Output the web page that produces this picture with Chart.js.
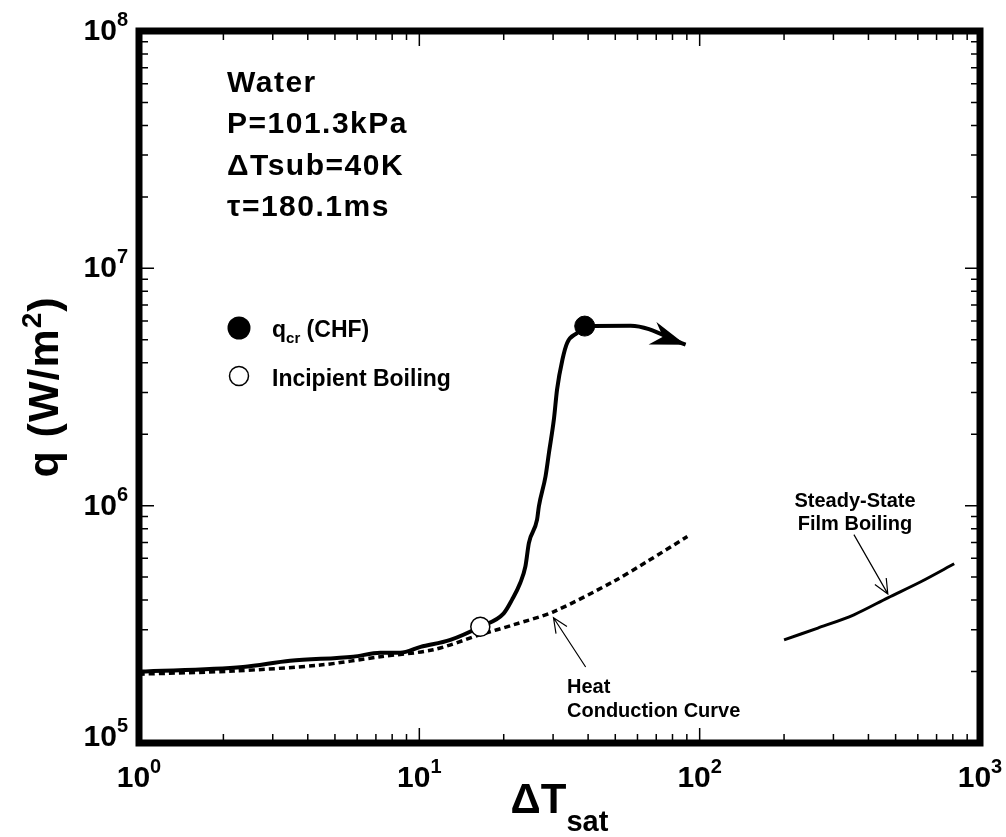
<!DOCTYPE html>
<html>
<head>
<meta charset="utf-8">
<script src="https://cdn.jsdelivr.net/npm/chart.js@4.4.1/dist/chart.umd.min.js"></script>
<style>
  html, body { margin: 0; padding: 0; background: #fff; }
  canvas { display: block; }
</style>
</head>
<body>
<canvas id="boilingChart" width="1006" height="837"></canvas>
<script>
// Transient boiling curve - water, P=101.3kPa, dTsub=40K, tau=180.1ms
const dtMeasured = [1.0, 2.35, 3.46, 5.81, 7.26, 8.55, 10.1, 12.9, 16.5, 20.0, 21.4, 22.9, 23.9, 24.6, 26.3, 26.7, 28.2, 29.0, 30.2, 31.0, 32.4, 33.7, 36.6, 38.9, 56.7, 89.1];
const qMeasured  = [2.0e5, 2.09e5, 2.22e5, 2.31e5, 2.40e5, 2.40e5, 2.54e5, 2.72e5, 3.09e5, 3.52e5, 4.01e5, 4.72e5, 5.55e5, 6.97e5, 8.73e5, 9.94e5, 1.33e6, 1.67e6, 2.31e6, 3.09e6, 4.13e6, 4.86e6, 5.35e6, 5.71e6, 5.73e6, 4.77e6];

// heat conduction curve (dotted)
const dtConduction = [1.0, 2.17, 4.43, 7.26, 11.2, 16.5, 21.7, 30.2, 49.4, 65.0, 90.4];
const qConduction  = [1.95e5, 2.01e5, 2.13e5, 2.31e5, 2.47e5, 2.86e5, 3.15e5, 3.58e5, 4.8e5, 5.82e5, 7.41e5];

// steady-state film boiling
const dtFilm = [200, 264, 355, 469, 615, 809];
const qFilm  = [2.72e5, 3.05e5, 3.47e5, 4.09e5, 4.78e5, 5.69e5];

// marked points
const dtChf = [38.9];
const qChf  = [5.71e6];
const dtIncipient = [16.5];
const qIncipient  = [3.09e5];

// axes
const xDecades = [1, 10, 100, 1000];
const xExponents = ['0', '1', '2', '3'];
const yDecades = [1e5, 1e6, 1e7, 1e8];
const yExponents = ['5', '6', '7', '8'];
const minorSteps = [2, 3, 4, 5, 6, 7, 8, 9];

// annotation arrows [tail, tip] in data units
const conductionArrow = [[39.2, 2.09e5], [30.1, 3.37e5]];
const filmArrow = [[355, 7.55e5], [469, 4.25e5]];

const infoLines = ['Water', 'P=101.3kPa', '\u0394Tsub=40K', '\u03c4=180.1ms'];

const FONT = '"Liberation Sans", Arial, Helvetica, sans-serif';

function pts(xs, ys) {
  return xs.map((x, i) => ({ x: x, y: ys[i] }));
}

function font(size) {
  return 'bold ' + size + 'px ' + FONT;
}

// draws runs of [text, size, dy] one after another, returns total width
function runs(ctx, parts, x, y, measureOnly) {
  let cx = x;
  parts.forEach(([t, size, dy]) => {
    ctx.font = font(size);
    if (!measureOnly) ctx.fillText(t, cx, y + (dy || 0));
    cx += ctx.measureText(t).width;
  });
  return cx - x;
}

function thinArrow(ctx, x0, y0, x1, y1) {
  const ang = Math.atan2(y1 - y0, x1 - x0);
  const len = 16, spread = 0.42;
  ctx.beginPath();
  ctx.moveTo(x0, y0);
  ctx.lineTo(x1, y1);
  ctx.moveTo(x1 - len * Math.cos(ang - spread), y1 - len * Math.sin(ang - spread));
  ctx.lineTo(x1, y1);
  ctx.lineTo(x1 - len * Math.cos(ang + spread), y1 - len * Math.sin(ang + spread));
  ctx.stroke();
}

const frameAxes = {
  id: 'frameAxes',
  afterDraw(chart) {
    const { ctx, chartArea: a, scales: { x, y } } = chart;
    ctx.save();
    ctx.strokeStyle = '#000';
    ctx.fillStyle = '#000';

    // tick marks on all four sides, pointing in
    ctx.lineWidth = 1.5;
    ctx.beginPath();
    xDecades.forEach((d, i) => {
      const marks = [[d, 15]];
      if (i < xDecades.length - 1) minorSteps.forEach(m => marks.push([d * m, 9]));
      marks.forEach(([v, len]) => {
        const px = x.getPixelForValue(v);
        ctx.moveTo(px, a.bottom); ctx.lineTo(px, a.bottom - len);
        ctx.moveTo(px, a.top); ctx.lineTo(px, a.top + len);
      });
    });
    yDecades.forEach((d, i) => {
      const marks = [[d, 15]];
      if (i < yDecades.length - 1) minorSteps.forEach(m => marks.push([d * m, 9]));
      marks.forEach(([v, len]) => {
        const py = y.getPixelForValue(v);
        ctx.moveTo(a.left, py); ctx.lineTo(a.left + len, py);
        ctx.moveTo(a.right, py); ctx.lineTo(a.right - len, py);
      });
    });
    ctx.stroke();

    // thick frame
    ctx.lineWidth = 7;
    ctx.strokeRect(a.left, a.top, a.right - a.left, a.bottom - a.top);

    // tick labels 10^n
    ctx.textAlign = 'left';
    ctx.textBaseline = 'alphabetic';
    xDecades.forEach((d, i) => {
      const parts = [['10', 30, 0], [xExponents[i], 20, -14]];
      const w = runs(ctx, parts, 0, 0, true);
      runs(ctx, parts, x.getPixelForValue(d) - w / 2, a.bottom + 44);
    });
    yDecades.forEach((d, i) => {
      const parts = [['10', 30, 0], [yExponents[i], 20, -14]];
      const w = runs(ctx, parts, 0, 0, true);
      const base = Math.min(y.getPixelForValue(d) + 9, a.bottom + 3);
      runs(ctx, parts, a.left - 11 - w, base);
    });

    // x title: dT_sat
    const xt = [['\u0394T', 42, 0], ['sat', 29, 18]];
    const xw = runs(ctx, xt, 0, 0, true);
    runs(ctx, xt, (a.left + a.right) / 2 - xw / 2, a.bottom + 70);

    // y title: q (W/m2)
    ctx.save();
    ctx.translate(58, (a.top + a.bottom) / 2);
    ctx.rotate(-Math.PI / 2);
    ctx.letterSpacing = '1px';
    const yt = [['q (W/m', 43, 0], ['2', 28, -17], [')', 43, 0]];
    const yw = runs(ctx, yt, 0, 0, true);
    runs(ctx, yt, -yw / 2, 0);
    ctx.restore();

    ctx.restore();
  }
};

const annotations = {
  id: 'annotations',
  afterDatasetsDraw(chart) {
    const { ctx, scales: { x, y } } = chart;
    const px = v => x.getPixelForValue(v);
    const py = v => y.getPixelForValue(v);
    ctx.save();
    ctx.fillStyle = '#000';
    ctx.strokeStyle = '#000';

    // filled arrowhead at the end of the transient curve
    const pts2 = chart.getDatasetMeta(2).data;
    const tip = pts2[pts2.length - 1], prev = pts2[pts2.length - 2];
    const ang = Math.atan2(tip.y - prev.y, tip.x - prev.x);
    const c = Math.cos(ang), s = Math.sin(ang);
    const L = 35, W = 12, N = 24;
    ctx.beginPath();
    ctx.moveTo(tip.x, tip.y);
    ctx.lineTo(tip.x - L * c - W * s, tip.y - L * s + W * c);
    ctx.lineTo(tip.x - N * c, tip.y - N * s);
    ctx.lineTo(tip.x - L * c + W * s, tip.y - L * s - W * c);
    ctx.closePath();
    ctx.fill();

    // thin pointer arrows
    ctx.lineWidth = 1.2;
    [conductionArrow, filmArrow].forEach(([t0, t1]) => {
      thinArrow(ctx, px(t0[0]), py(t0[1]), px(t1[0]), py(t1[1]));
    });

    ctx.textBaseline = 'alphabetic';
    ctx.textAlign = 'left';

    // info block
    ctx.save();
    ctx.letterSpacing = '1.5px';
    ctx.font = font(30);
    infoLines.forEach((t, i) => ctx.fillText(t, 227, 92 + i * 41.4));
    ctx.restore();

    // legend
    ctx.beginPath();
    ctx.arc(239, 328, 11.5, 0, Math.PI * 2);
    ctx.fill();
    ctx.beginPath();
    ctx.arc(239, 376, 9.5, 0, Math.PI * 2);
    ctx.fillStyle = '#fff';
    ctx.fill();
    ctx.lineWidth = 1.5;
    ctx.stroke();
    ctx.fillStyle = '#000';
    runs(ctx, [['q', 23, 0], ['cr', 15, 6], [' (CHF)', 23, 0]], 272, 337);
    ctx.font = font(23);
    ctx.fillText('Incipient Boiling', 272, 386);

    // curve notes
    ctx.font = font(20);
    ctx.fillText('Heat', 567, 693);
    ctx.fillText('Conduction Curve', 567, 717);
    ctx.textAlign = 'center';
    ctx.fillText('Steady-State', 855, 507);
    ctx.fillText('Film Boiling', 855, 530);

    ctx.restore();
  }
};

new Chart(document.getElementById('boilingChart').getContext('2d'), {
  type: 'line',
  data: {
    datasets: [
      {
        label: 'q_cr (CHF)',
        data: pts(dtChf, qChf),
        showLine: false,
        pointRadius: 10,
        pointBackgroundColor: '#000',
        pointBorderColor: '#000',
        order: 0
      },
      {
        label: 'Incipient Boiling',
        data: pts(dtIncipient, qIncipient),
        showLine: false,
        pointRadius: 9.5,
        pointBackgroundColor: '#fff',
        pointBorderColor: '#000',
        pointBorderWidth: 1.5,
        order: 0
      },
      {
        label: 'Transient',
        data: pts(dtMeasured, qMeasured),
        borderColor: '#000',
        borderWidth: 4,
        pointRadius: 0,
        cubicInterpolationMode: 'monotone',
        order: 1
      },
      {
        label: 'Heat Conduction Curve',
        data: pts(dtConduction, qConduction),
        borderColor: '#000',
        borderWidth: 3.5,
        borderDash: [6, 4],
        pointRadius: 0,
        tension: 0.3,
        order: 2
      },
      {
        label: 'Steady-State Film Boiling',
        data: pts(dtFilm, qFilm),
        borderColor: '#000',
        borderWidth: 3,
        pointRadius: 0,
        tension: 0.3,
        order: 1
      }
    ]
  },
  options: {
    responsive: false,
    animation: false,
    events: [],
    layout: { padding: { left: 139, top: 31, right: 26, bottom: 94 } },
    scales: {
      x: { type: 'logarithmic', min: 1, max: 1000, display: false },
      y: { type: 'logarithmic', min: 1e5, max: 1e8, display: false }
    },
    plugins: {
      legend: { display: false },
      tooltip: { enabled: false }
    }
  },
  plugins: [frameAxes, annotations]
});
</script>
</body>
</html>
